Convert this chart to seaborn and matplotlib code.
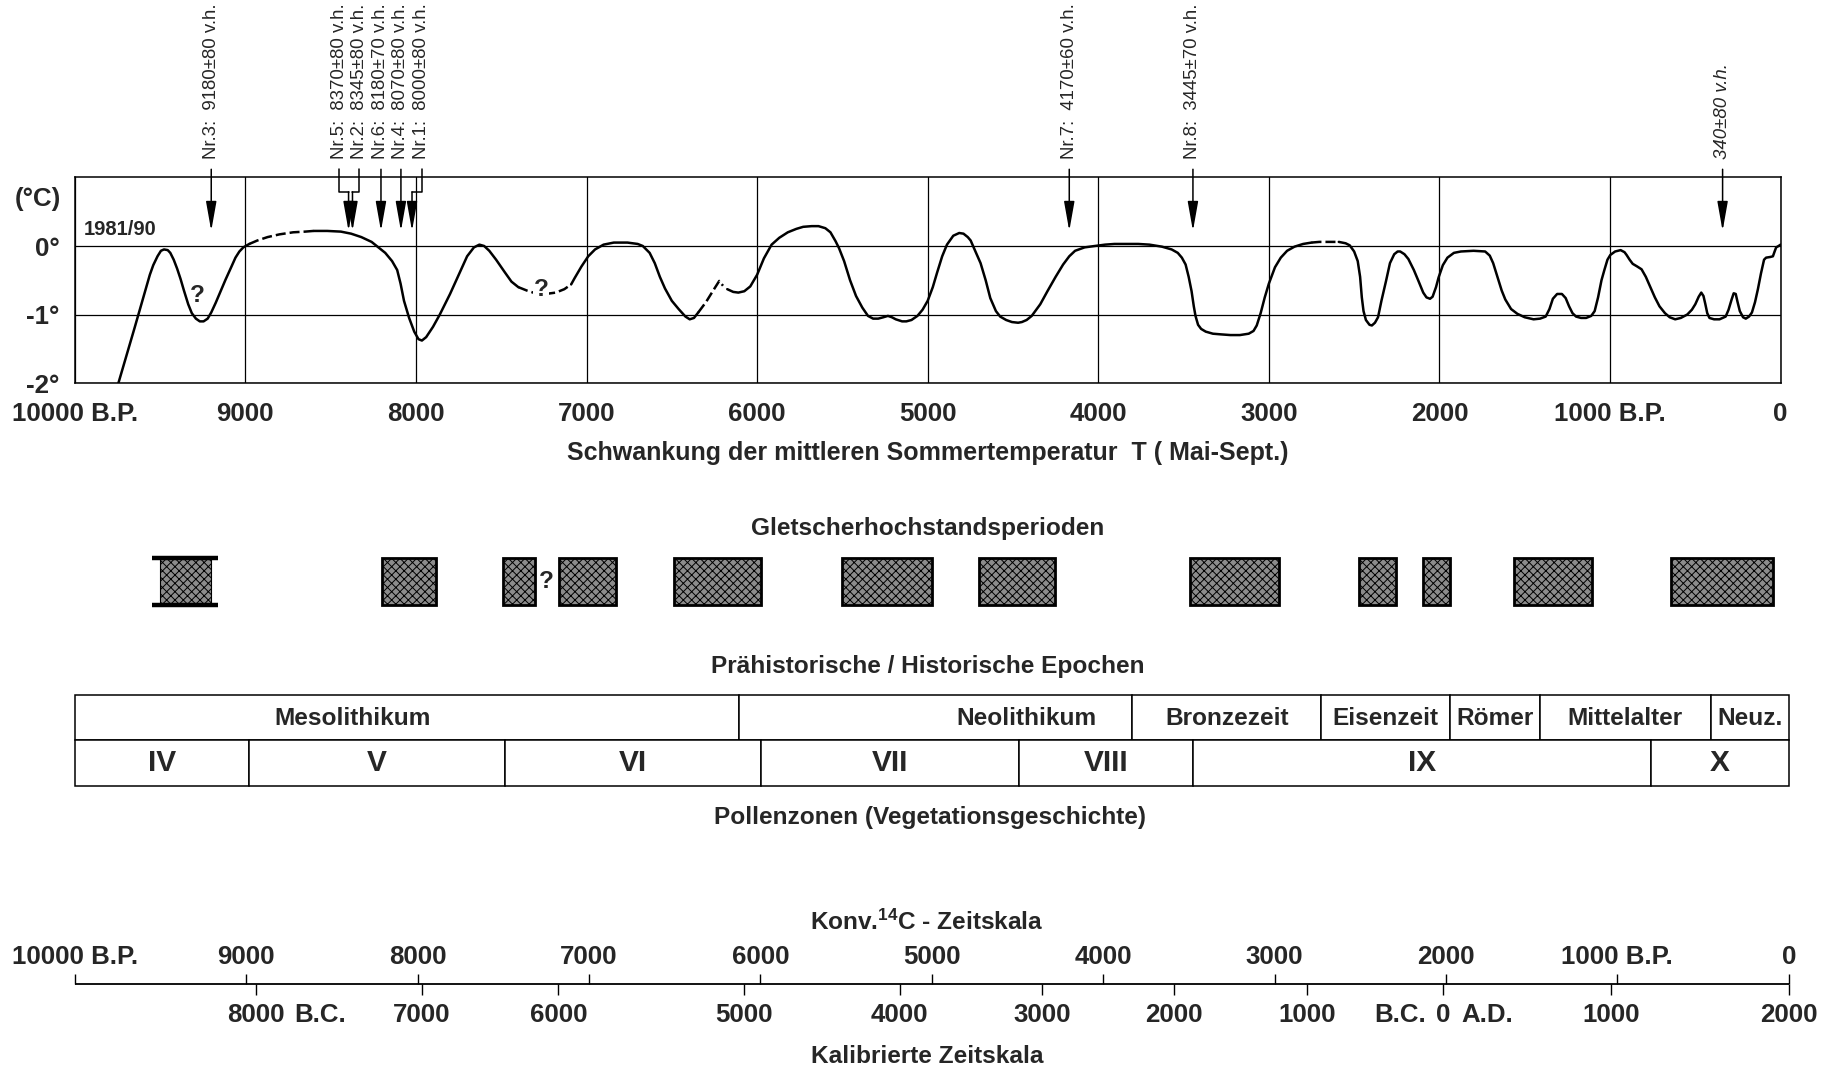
import numpy as np
import pandas as pd
import seaborn as sns
import matplotlib.pyplot as plt

# --- temperature curve (years B.P. / deviation in deg C), solid and dashed parts
s1_year = [9750, 9650, 9560, 9540, 9515, 9495, 9477, 9455, 9440, 9420, 9400, 9380, 9360, 9335, 9314,
           9290, 9267, 9245, 9221, 9200, 9174, 9145, 9116, 9085, 9058, 9035, 9012, 8977]
s1_temp = [-2.05, -1.2, -0.42, -0.28, -0.15, -0.07, -0.05, -0.06, -0.1, -0.2, -0.33, -0.48, -0.65, -0.85,
           -0.98, -1.06, -1.1, -1.1, -1.06, -0.97, -0.83, -0.66, -0.49, -0.32, -0.17, -0.08, -0.02, 0.03]
d1_year = [8977, 8930, 8870, 8800, 8720, 8650, 8600]
d1_temp = [0.03, 0.08, 0.13, 0.17, 0.2, 0.21, 0.22]
s2_year = [8600, 8520, 8440, 8380, 8320, 8260, 8220, 8180, 8140, 8110, 8090, 8070, 8040, 8010, 7985,
           7965, 7940, 7900, 7860, 7800, 7740, 7700, 7660, 7628, 7600, 7570, 7530, 7480, 7440, 7400]
s2_temp = [0.22, 0.22, 0.21, 0.18, 0.13, 0.06, -0.02, -0.1, -0.22, -0.35, -0.55, -0.8, -1.05, -1.25,
           -1.36, -1.38, -1.33, -1.18, -1.0, -0.7, -0.37, -0.15, -0.02, 0.02, 0.0, -0.07, -0.2, -0.38,
           -0.52, -0.6]
d2_year = [7400, 7350, 7300, 7240, 7180, 7130, 7090]
d2_temp = [-0.6, -0.65, -0.69, -0.7, -0.68, -0.63, -0.56]
s3_year = [7090, 7070, 7030, 6990, 6950, 6900, 6840, 6760, 6700, 6670, 6630, 6600, 6570, 6540, 6500,
           6460, 6420, 6395, 6370, 6345]
s3_temp = [-0.56, -0.47, -0.3, -0.15, -0.05, 0.02, 0.05, 0.05, 0.03, 0.0, -0.1, -0.25, -0.45, -0.62,
           -0.8, -0.92, -1.03, -1.07, -1.05, -0.97]
d3_year = [6345, 6300, 6260, 6222, 6200]
d3_temp = [-0.97, -0.82, -0.66, -0.51, -0.58]
s4_year = [6175, 6140, 6110, 6075, 6040, 6000, 5960, 5915, 5870, 5820, 5770, 5730, 5680, 5640, 5600,
           5570, 5540, 5520, 5490, 5455, 5420, 5383, 5350, 5320, 5290, 5260, 5233, 5210, 5187, 5150,
           5125, 5095, 5060, 5030, 5000, 4970, 4945, 4915, 4887, 4850, 4815, 4790, 4765, 4748, 4720,
           4690, 4660, 4633, 4600, 4575, 4540, 4506, 4470, 4448, 4420, 4390, 4340, 4298, 4250, 4206,
           4170, 4136, 4080, 4021, 3960, 3905, 3830, 3766, 3700, 3626, 3570, 3534, 3510, 3488, 3470,
           3453, 3440, 3430, 3415, 3397, 3370, 3328, 3280, 3225, 3170, 3118, 3090, 3071, 3048, 3024,
           3000, 2964, 2930, 2893, 2850, 2799, 2750]
s4_temp = [-0.63, -0.67, -0.68, -0.66, -0.59, -0.42, -0.18, 0.02, 0.12, 0.2, 0.25, 0.28, 0.29, 0.29,
           0.26, 0.2, 0.07, -0.03, -0.22, -0.5, -0.73, -0.9, -1.02, -1.06, -1.06, -1.04, -1.02, -1.04,
           -1.07, -1.1, -1.1, -1.08, -1.02, -0.93, -0.8, -0.6, -0.39, -0.15, 0.02, 0.15, 0.19, 0.18,
           0.13, 0.08, -0.08, -0.25, -0.5, -0.76, -0.95, -1.03, -1.08, -1.11, -1.12, -1.11, -1.08,
           -1.02, -0.85, -0.66, -0.45, -0.27, -0.15, -0.07, -0.02, 0.0, 0.02, 0.03, 0.03, 0.03, 0.02,
           -0.01, -0.05, -0.1, -0.17, -0.27, -0.45, -0.66, -0.88, -1.02, -1.15, -1.21, -1.25, -1.28,
           -1.29, -1.3, -1.3, -1.28, -1.24, -1.16, -0.98, -0.75, -0.55, -0.31, -0.17, -0.07, -0.01,
           0.03, 0.05]
d4_year = [2750, 2704, 2650, 2590]
d4_temp = [0.05, 0.06, 0.06, 0.06]
s5_year = [2590, 2550, 2526, 2500, 2479, 2465, 2455, 2445, 2431, 2410, 2396, 2378, 2360, 2340, 2313,
           2290, 2265, 2245, 2230, 2205, 2182, 2150, 2123, 2095, 2076, 2055, 2040, 2020, 2005, 1980,
           1953, 1915, 1874, 1800, 1732, 1705, 1685, 1660, 1635, 1614, 1580, 1543, 1500, 1448, 1410,
           1377, 1355, 1335, 1310, 1282, 1260, 1240, 1220, 1199, 1170, 1140, 1110, 1090, 1070, 1050,
           1033, 1015, 998, 970, 938, 915, 903, 885, 867, 840, 815, 790, 760, 737, 710, 678, 650, 618,
           585, 547, 520, 500, 480, 465, 452, 441, 430, 417, 390, 358, 322, 305, 287, 275, 263, 252,
           239, 220, 204, 185, 168, 150, 133, 115, 97, 85, 60, 45, 35, 26, 12, 0]
s5_temp = [0.06, 0.04, 0.01, -0.08, -0.22, -0.45, -0.75, -0.95, -1.08, -1.15, -1.16, -1.12, -1.04,
           -0.8, -0.51, -0.25, -0.12, -0.08, -0.08, -0.12, -0.19, -0.35, -0.51, -0.68, -0.75, -0.77,
           -0.74, -0.6, -0.46, -0.28, -0.17, -0.1, -0.08, -0.07, -0.08, -0.14, -0.25, -0.45, -0.65,
           -0.78, -0.92, -0.99, -1.04, -1.07, -1.06, -1.03, -0.92, -0.77, -0.7, -0.7, -0.76, -0.88,
           -0.98, -1.03, -1.05, -1.05, -1.02, -0.95, -0.75, -0.5, -0.35, -0.2, -0.13, -0.08, -0.06,
           -0.09, -0.13, -0.2, -0.26, -0.3, -0.34, -0.45, -0.62, -0.75, -0.88, -0.98, -1.04, -1.07,
           -1.05, -1.0, -0.93, -0.85, -0.74, -0.68, -0.73, -0.85, -0.98, -1.05, -1.07, -1.07, -1.03,
           -0.93, -0.78, -0.69, -0.7, -0.82, -0.95, -1.04, -1.06, -1.03, -0.97, -0.82, -0.63, -0.4,
           -0.2, -0.17, -0.16, -0.15, -0.08, -0.02, 0.0, 0.02]

# --- dated samples (arrows above the curve)
sample_year = [9200, 8449, 8333, 8205, 8088, 7965, 4170, 3445, 340]
arrow_year = [9200, 8395, 8372, 8205, 8088, 8023, 4170, 3445, 340]
sample_text = ["Nr.3:  9180\u00b180 v.h.", "Nr.5:  8370\u00b180 v.h.", "Nr.2:  8345\u00b180 v.h.",
               "Nr.6:  8180\u00b170 v.h.", "Nr.4:  8070\u00b180 v.h.", "Nr.1:  8000\u00b180 v.h.",
               "Nr.7:  4170\u00b160 v.h.", "Nr.8:  3445\u00b170 v.h.", "340\u00b180 v.h."]

top_ticks = list(range(10000, -1, -1000))
top_tick_labels = ["10000 B.P.", "9000", "8000", "7000", "6000", "5000", "4000", "3000", "2000",
                   "1000 B.P.", "0"]

# --- glacier high-stand periods (years B.P.)
glacier_start = [9500, 8200, 7490, 7160, 6490, 5500, 4700, 3460, 2470, 2095, 1565, 645]
glacier_end = [9200, 7880, 7300, 6830, 5975, 4975, 4255, 2940, 2255, 1940, 1105, 45]

# --- epochs and pollen zones
epoch_names = ["Mesolithikum", "Neolithikum", "Bronzezeit", "Eisenzeit", "R\u00f6mer", "Mittelalter", "Neuz."]
epoch_start = [10000, 6103, 3801, 2692, 1938, 1411, 404]
epoch_end = [6103, 3801, 2692, 1938, 1411, 404, -50]
epoch_label_year = [8370, 4418, 3246, 2315, 1675, 908, 177]
pollen_names = ["IV", "V", "VI", "VII", "VIII", "IX", "X"]
pollen_start = [10000, 8980, 7480, 5975, 4465, 3445, 755]
pollen_end = [8980, 7480, 5975, 4465, 3445, 755, -50]

# --- conventional 14C scale vs calibrated scale
c14_ticks = list(range(10000, -1, -1000))
c14_labels = ["10000 B.P.", "9000", "8000", "7000", "6000", "5000", "4000", "3000", "2000", "1000 B.P.", "0"]
cal_ticks = [8943, 7975, 7178, 6094, 5187, 4356, 3586, 2808, 2018, 1036, 0]
cal_labels = ["8000", "7000", "6000", "5000", "4000", "3000", "2000", "1000", "0", "1000", "2000"]

sns.set_style("white")
plt.rcParams['font.family'] = ['Liberation Sans', 'DejaVu Sans']
plt.rcParams['font.weight'] = 'bold'
plt.rcParams['mathtext.default'] = 'regular'
plt.rcParams['hatch.linewidth'] = 0.7

fig = plt.figure(figsize=(18.32, 10.72), dpi=100)


def box(l, t, r, b):
    # layout helper in reference pixel units (1568 x 918)
    return [l / 1568, 1 - b / 918, (r - l) / 1568, (b - t) / 918]


TITLE = 17.6
TICK = 18.6

# ---------------- temperature curve
ax = fig.add_axes(box(64, 152, 1524, 328))
segments = [(s1_year, s1_temp, False), (d1_year, d1_temp, True), (s2_year, s2_temp, False),
            (d2_year, d2_temp, True), (s3_year, s3_temp, False), (d3_year, d3_temp, True),
            (s4_year, s4_temp, False), (d4_year, d4_temp, True), (s5_year, s5_temp, False)]
for yrs, tmp, dashed in segments:
    seg = pd.DataFrame({"year": yrs, "temp": tmp})
    sns.lineplot(data=seg, x="year", y="temp", ax=ax, color="black", linewidth=1.8,
                 sort=False, estimator=None, solid_joinstyle="round",
                 linestyle=(0, (4, 1.6)) if dashed else "-")
ax.set_xlim(10000, 0)
ax.set_ylim(-2, 1)
ax.set_xticks(top_ticks)
ax.set_xticklabels(top_tick_labels)
ax.set_yticks([0, -1, -2])
ax.set_yticklabels(["0\u00b0", "-1\u00b0", "-2\u00b0"])
ax.tick_params(axis="x", direction="out", length=9, width=1, pad=5, labelsize=TICK, color="black")
ax.tick_params(axis="y", length=0, pad=11, labelsize=TICK)
ax.grid(True, color="black", linewidth=0.9)
ax.set_xlabel("")
ax.set_ylabel("")
for sp in ax.spines.values():
    sp.set_color("black")
    sp.set_linewidth(1.1)

ax.text(9945, 0.24, "1981/90", ha="left", va="center", fontsize=14.5)
ax.text(9280, -0.72, "?", ha="center", va="center", fontsize=TITLE)
ax.text(7268, -0.64, "?", ha="center", va="center", fontsize=TITLE,
        bbox=dict(facecolor="white", edgecolor="none", pad=0.5))
fig.text(32 / 1568, 1 - 170 / 918, "(\u00b0C)", ha="center", va="center", fontsize=TICK)
fig.text(794 / 1568, 1 - 388 / 918, "Schwankung der mittleren Sommertemperatur  T ( Mai-Sept.)",
         ha="center", va="center", fontsize=TITLE + 0.4)

arrow_kw = dict(arrowstyle="-|>,head_length=1.8,head_width=0.32", color="black", lw=1.1,
                mutation_scale=10, shrinkA=0, shrinkB=0)
for sx, axx, txt in zip(sample_year, arrow_year, sample_text):
    if sx != axx:
        ax.plot([sx, sx, axx], [1.12, 0.79, 0.79], color="black", lw=1.1, clip_on=False)
        start = 0.79
    else:
        start = 1.12
    ax.annotate("", xy=(axx, 0.22), xytext=(axx, start), arrowprops=arrow_kw, annotation_clip=False)
    ax.text(sx, 1.27, txt, rotation=90, ha="center", va="bottom", fontsize=13.4, fontweight="normal",
            style="italic" if txt.startswith("340") else "normal", clip_on=False)

# ---------------- glacier high-stand periods
axg = fig.add_axes(box(64, 478, 1524, 518))
axg.set_xlim(10000, 0)
axg.set_ylim(0, 1)
axg.axis("off")
mids = [(s + e) / 2 for s, e in zip(glacier_start, glacier_end)]
widths = [s - e for s, e in zip(glacier_start, glacier_end)]
axg.bar(x=mids[:1], height=1, width=widths[:1], bottom=0, color="#8c8c8c", edgecolor="black",
        linewidth=0.8, hatch="xxxx", clip_on=False)
axg.hlines([0, 1], glacier_start[0] + 48, glacier_end[0] - 42, color="black", lw=3.2, clip_on=False)
axg.bar(x=mids[1:], height=1, width=widths[1:], bottom=0, color="#8c8c8c", edgecolor="black",
        linewidth=2, hatch="xxxx", clip_on=False)
axg.text(7233, 0.5, "?", ha="center", va="center", fontsize=TITLE)
fig.text(794 / 1568, 1 - 453 / 918, "Gletscherhochstandsperioden", ha="center", va="center", fontsize=TITLE)

# ---------------- epochs / pollen zones
axe = fig.add_axes(box(64, 595, 1531, 673))
axe.set_xlim(10000, -50)
axe.set_ylim(0, 2)
axe.axis("off")
axe.bar(x=[(s + e) / 2 for s, e in zip(epoch_start, epoch_end)], height=1,
        width=[s - e for s, e in zip(epoch_start, epoch_end)],
        bottom=1, color="white", edgecolor="black", linewidth=1.1, clip_on=False)
axe.bar(x=[(s + e) / 2 for s, e in zip(pollen_start, pollen_end)], height=1,
        width=[s - e for s, e in zip(pollen_start, pollen_end)],
        bottom=0, color="white", edgecolor="black", linewidth=1.1, clip_on=False)
for name, lx in zip(epoch_names, epoch_label_year):
    axe.text(lx, 1.47, name, ha="center", va="center", fontsize=TITLE)
for name, s, e in zip(pollen_names, pollen_start, pollen_end):
    axe.text((s + e) / 2, 0.5, name, ha="center", va="center", fontsize=21.5, fontweight="bold")
fig.text(794 / 1568, 1 - 571 / 918, "Pr\u00e4historische / Historische Epochen", ha="center", va="center",
         fontsize=TITLE)
fig.text(796 / 1568, 1 - 700 / 918, "Pollenzonen (Vegetationsgeschichte)", ha="center", va="center",
         fontsize=TITLE)

# ---------------- time scales
axs = fig.add_axes(box(64, 834, 1531, 852))
axs.set_xlim(10000, 0)
axs.set_ylim(-1, 1)
axs.axis("off")
axs.hlines(0, 10000, 0, color="black", lw=1.3, clip_on=False)
axs.vlines(c14_ticks, 0, 1, color="black", lw=1.0, clip_on=False)
axs.vlines(cal_ticks, -1, 0, color="black", lw=1.0, clip_on=False)
for x, lab in zip(c14_ticks, c14_labels):
    axs.text(x, 2.6, lab, ha="center", va="center", fontsize=TICK, clip_on=False)
for x, lab in zip(cal_ticks, cal_labels):
    axs.text(x, -2.9, lab, ha="center", va="center", fontsize=TICK, clip_on=False)
for idx, lab, dx in [(0, "B.C.", 46), (8, "B.C.", -31), (8, "A.D.", 32)]:
    axs.annotate(lab, xy=(cal_ticks[idx], -2.9), xytext=(dx, 0), textcoords="offset points",
                 ha="center", va="center", fontsize=TICK, annotation_clip=False)
fig.text(793 / 1568, 1 - 790 / 918, r"Konv.$^{14}$C - Zeitskala", ha="center", va="center", fontsize=TITLE)
fig.text(794 / 1568, 1 - 905 / 918, "Kalibrierte Zeitskala", ha="center", va="center", fontsize=TITLE)

fig.savefig("out.png", dpi=100, facecolor="white")
